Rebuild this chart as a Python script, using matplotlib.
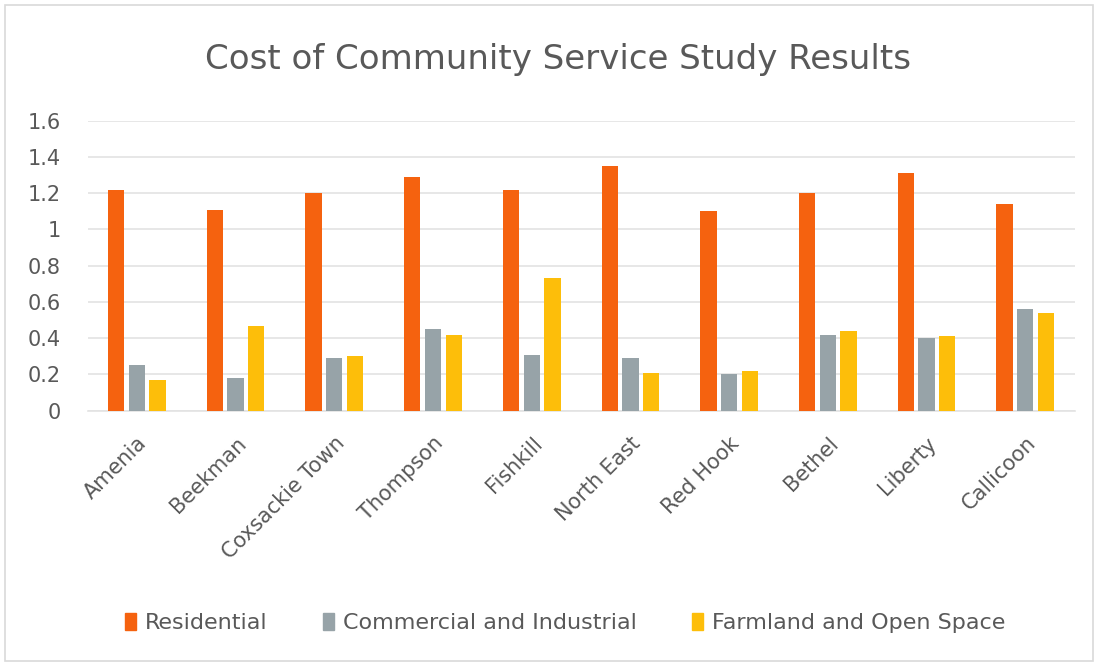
import numpy as np
import matplotlib.pyplot as plt
import matplotlib.patches as mpatches

# ── Data ────────────────────────────────────────────────────────────────────
towns = ['Amenia', 'Beekman', 'Coxsackie Town', 'Thompson', 'Fishkill',
         'North East', 'Red Hook', 'Bethel', 'Liberty', 'Callicoon']
residential = [1.22, 1.11, 1.20, 1.29, 1.22, 1.35, 1.10, 1.20, 1.31, 1.14]
commercial  = [0.25, 0.18, 0.29, 0.45, 0.31, 0.29, 0.20, 0.42, 0.40, 0.56]
farmland    = [0.17, 0.47, 0.30, 0.42, 0.73, 0.21, 0.22, 0.44, 0.41, 0.54]

series = [
    ('Residential', residential, '#F5620F'),
    ('Commercial and Industrial', commercial, '#97A3A8'),
    ('Farmland and Open Space', farmland, '#FDBE0A'),
]

TEXT = '#595959'

fig = plt.figure(figsize=(10.98, 6.66), dpi=100)
ax = fig.add_axes([0.0797, 0.3833, 0.899, 0.4355])

x = np.arange(len(towns))
w = 0.165
step = 0.21
for i, (name, vals, col) in enumerate(series):
    ax.bar(x + (i - 1) * step, vals, width=w, color=col, label=name, zorder=3)

ax.set_xlim(-0.5, len(towns) - 0.5)
ax.set_ylim(0, 1.6)
ax.set_yticks(np.arange(0, 1.61, 0.2))
ax.set_yticklabels(['0', '0.2', '0.4', '0.6', '0.8', '1', '1.2', '1.4', '1.6'],
                   fontsize=15, color=TEXT)
ax.set_xticks(x)
ax.set_xticklabels(towns, rotation=45, ha='right', rotation_mode='anchor',
                   fontsize=15, color=TEXT)
ax.tick_params(axis='both', length=0)
ax.tick_params(axis='y', pad=19)
ax.tick_params(axis='x', pad=16)

ax.grid(axis='y', color='#E3E3E3', linewidth=1.2, zorder=0)
for s in ['top', 'right', 'left']:
    ax.spines[s].set_visible(False)
ax.spines['bottom'].set_color('#E3E3E3')
ax.spines['bottom'].set_linewidth(1.2)

fig.text(0.508, 0.91, 'Cost of Community Service Study Results',
         ha='center', va='center', fontsize=24.5, color=TEXT)

handles = [mpatches.Patch(color=c, label=n) for n, _, c in series]
fig.legend(handles=handles, loc='center', bbox_to_anchor=(0.5146, 0.0646),
           ncol=3, frameon=False, fontsize=16, labelcolor=TEXT,
           handlelength=0.5, handleheight=0.8, handletextpad=0.4,
           columnspacing=2.5)

# light chart border
fig.patches.append(mpatches.Rectangle((0.005, 0.008), 0.99, 0.984,
                                      transform=fig.transFigure,
                                      fill=False, edgecolor='#D9D9D9',
                                      linewidth=1.2))

fig.savefig('out.png', dpi=100)
